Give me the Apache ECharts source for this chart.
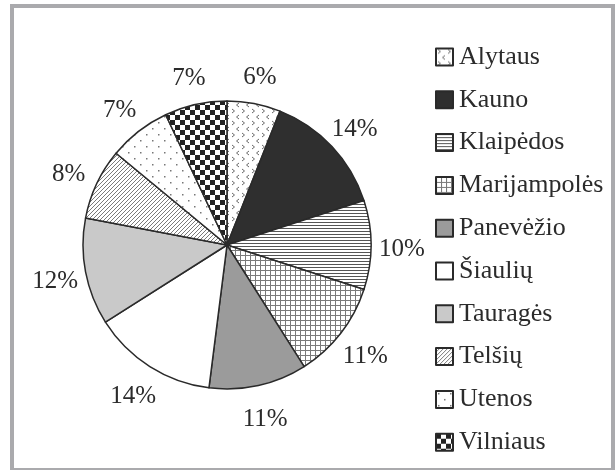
<!DOCTYPE html>
<html>
<head>
<meta charset="utf-8">
<script src="https://cdn.jsdelivr.net/npm/echarts@6/dist/echarts.min.js"></script>
<style>
  html, body { margin: 0; padding: 0; background: #fff; }
  #chart { width: 616px; height: 470px; }
</style>
</head>
<body>
<div id="chart"></div>
<script>
// apskritys
var categories = ['Alytaus', 'Kauno', 'Klaipėdos', 'Marijampolės', 'Panevėžio',
                  'Šiaulių', 'Tauragės', 'Telšių', 'Utenos', 'Vilniaus'];
var shares = [6, 14, 10, 11, 11, 14, 12, 8, 7, 7];

// fill style per slice (pattern name or plain colour)
var fills = ['chevron', '#2f2f2f', 'hlines', 'grid', '#9b9b9b',
             '#ffffff', '#c9c9c9', 'diag', 'dots', 'checker'];

function tile(w, h, draw) {
    var c = document.createElement('canvas');
    c.width = w; c.height = h;
    var ctx = c.getContext('2d');
    ctx.fillStyle = '#fff';
    ctx.fillRect(0, 0, w, h);
    draw(ctx);
    return { image: c, repeat: 'repeat' };
}

function makeFill(name) {
    if (name.charAt(0) === '#') return name;
    if (name === 'chevron') {
        return tile(10, 12, function (ctx) {
            ctx.strokeStyle = '#6a6a6a'; ctx.lineWidth = 1;
            ctx.beginPath();
            ctx.moveTo(2, 1); ctx.lineTo(4.5, 3); ctx.lineTo(2, 5);
            ctx.moveTo(9, 7); ctx.lineTo(6.5, 9); ctx.lineTo(9, 11);
            ctx.stroke();
        });
    }
    if (name === 'hlines') {
        return tile(4, 3, function (ctx) {
            ctx.fillStyle = '#555';
            ctx.fillRect(0, 0, 4, 1);
        });
    }
    if (name === 'grid') {
        return tile(5, 5, function (ctx) {
            ctx.fillStyle = '#7a7a7a';
            ctx.fillRect(0, 0, 5, 1);
            ctx.fillRect(0, 0, 1, 5);
        });
    }
    if (name === 'diag') {
        return tile(4, 4, function (ctx) {
            ctx.strokeStyle = '#7a7a7a'; ctx.lineWidth = 1;
            ctx.beginPath();
            ctx.moveTo(-1, 5); ctx.lineTo(5, -1);
            ctx.stroke();
        });
    }
    if (name === 'dots') {
        return tile(12, 12, function (ctx) {
            ctx.fillStyle = '#777';
            ctx.fillRect(2, 2, 1.5, 1.5);
            ctx.fillRect(8, 8, 1.5, 1.5);
        });
    }
    if (name === 'checker') {
        return tile(10, 10, function (ctx) {
            ctx.fillStyle = '#222';
            ctx.fillRect(0, 0, 5, 5);
            ctx.fillRect(5, 5, 5, 5);
        });
    }
    return '#fff';
}

var pieData = categories.map(function (name, i) {
    return {
        name: name,
        value: shares[i],
        itemStyle: { color: makeFill(fills[i]) }
    };
});

var labelFont = {
    fontSize: 25,
    color: '#2b2b2b',
    fontFamily: '"Liberation Serif", serif'
};

var myChart = echarts.init(document.getElementById('chart'));
myChart.setOption({
    animation: false,
    textStyle: { fontFamily: '"Liberation Serif", "DejaVu Serif", serif' },
    graphic: [{
        type: 'rect',
        shape: { x: 12, y: 6, width: 601, height: 464 },
        style: { fill: 'none', stroke: '#aaaaad', lineWidth: 4 },
        silent: true
    }],
    legend: {
        orient: 'vertical',
        left: 430,
        top: 39,
        icon: 'rect',
        itemWidth: 17,
        itemHeight: 17,
        itemGap: 16.8,
        selectedMode: false,
        textStyle: {
            fontSize: 26,
            lineHeight: 26,
            color: '#2b2b2b',
            padding: [0, 0, 0, 1],
            fontFamily: '"Liberation Serif", serif'
        },
        data: categories
    },
    series: [{
        type: 'pie',
        center: [227, 245],
        radius: 144,
        startAngle: 90,
        clockwise: true,
        itemStyle: { borderColor: '#2a2a2a', borderWidth: 1.5 },
        label: { show: false },
        labelLine: { show: false },
        emphasis: { disabled: true },
        data: pieData
    }, {
        // invisible ring that only carries the percentage labels
        type: 'pie',
        center: [227, 245],
        radius: [165, 179],
        startAngle: 90,
        clockwise: true,
        silent: true,
        legendHoverLink: false,
        itemStyle: { color: 'rgba(0,0,0,0)', borderWidth: 0 },
        label: Object.assign({
            show: true,
            position: 'inside',
            offset: [0, 4],
            formatter: '{c}%'
        }, labelFont),
        labelLine: { show: false },
        emphasis: { disabled: true },
        data: categories.map(function (name, i) {
            return { name: name, value: shares[i] };
        })
    }]
});
</script>
</body>
</html>
